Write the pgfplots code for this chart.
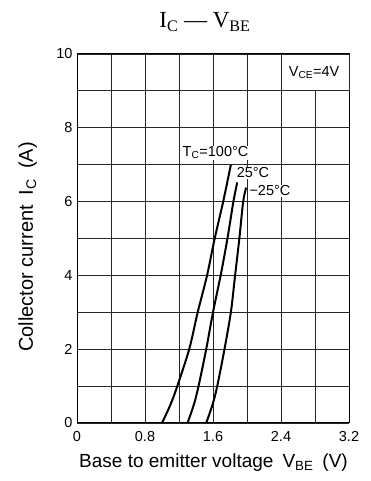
\documentclass[border=0pt]{standalone}
\usepackage{fontspec}
\setmainfont{Liberation Sans}
\newfontfamily\seriffont{Liberation Serif}
\usepackage{pgfplots}
\pgfplotsset{compat=1.18}
\begin{document}
\begin{tikzpicture}
\useasboundingbox (-77pt,-58pt) rectangle (293pt,423pt);
\begin{axis}[
  at={(0pt,0pt)}, anchor=origin,
  scale only axis, width=272pt, height=369pt,
  xmin=0, xmax=3.2, ymin=0, ymax=10,
  xtick={0,0.8,1.6,2.4,3.2}, xticklabels={0,0.8,1.6,2.4,3.2},
  minor xtick={0.4,1.2,2.0,2.8},
  ytick={0,2,4,6,8,10}, yticklabels={0,2,4,6,8,10},
  minor ytick={1,3,5,7,9},
  grid=both,
  major grid style={black!85, line width=0.9pt},
  minor grid style={black!85, line width=0.9pt},
  axis line style={black, line width=1pt},
  major tick length=0pt, minor tick length=0pt,
  tick label style={font=\fontsize{14.5}{16}\selectfont},
  /pgf/number format/assume math mode=true,
  xticklabel style={yshift=-5pt},
  yticklabel style={xshift=-1pt},
  clip=false,
]
\fill[white] (axis cs:2.4,9) rectangle (axis cs:3.2,10);
\draw[black!85, line width=0.9pt] (axis cs:2.4,9) rectangle (axis cs:3.2,10);
\addplot[black, line width=2pt, smooth] coordinates {(1.00,0) (1.10,0.5) (1.18,1) (1.32,2) (1.42,3) (1.53,4) (1.62,5) (1.72,6) (1.81,7)};
\addplot[black, line width=2pt, smooth] coordinates {(1.30,0) (1.375,0.5) (1.43,1) (1.52,2) (1.60,3) (1.69,4) (1.77,5) (1.84,6) (1.885,6.52)};
\addplot[black, line width=2pt, smooth] coordinates {(1.52,0) (1.595,0.5) (1.65,1) (1.735,2) (1.81,3) (1.86,4) (1.91,5) (1.955,6) (1.99,6.38)};
\node[font=\fontsize{14.5}{16}\selectfont, fill=white, inner sep=1pt] at (axis cs:1.63,7.32) {T\textsubscript{C}=100°C};
\node[font=\fontsize{14.5}{16}\selectfont, fill=white, inner sep=1pt] at (axis cs:2.07,6.78) {25°C};
\node[font=\fontsize{14.5}{16}\selectfont, fill=white, inner sep=1pt] at (axis cs:2.27,6.29) {−25°C};
\node[font=\fontsize{14.5}{16}\selectfont] at (axis cs:2.79,9.49) {V\textsubscript{CE}=4V};
\end{axis}
\node[font=\seriffont\fontsize{23}{26}\selectfont] at (128pt,401pt) {I\textsubscript{C} — V\textsubscript{BE}};
\node[font=\fontsize{19}{22}\selectfont, anchor=base west, inner sep=0pt] at (2pt,-44pt) {Base to emitter voltage\hspace{9pt}V\textsubscript{BE}\hspace{9pt}(V)};
\node[font=\fontsize{20}{22}\selectfont, rotate=90, anchor=base west, inner sep=0pt] at (-44pt,71pt) {Collector current\hspace{10pt}I\textsubscript{C}\hspace{10pt}(A)};
\end{tikzpicture}
\end{document}
